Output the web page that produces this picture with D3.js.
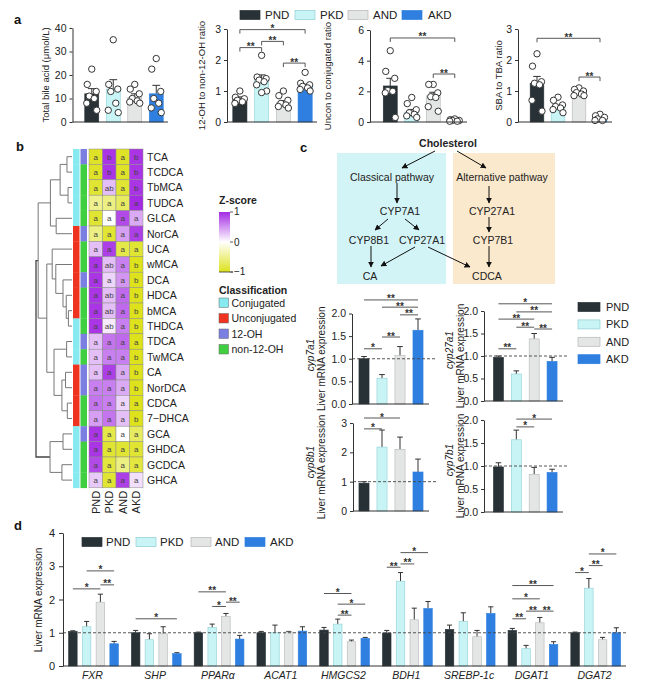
<!DOCTYPE html>
<html>
<head>
<meta charset="utf-8">
<script src="https://cdn.jsdelivr.net/npm/d3@7"></script>
<style>
  body { margin: 0; background: #fff; }
  svg { font-family: "Liberation Sans", Arial, sans-serif; }
  .tick line, .domain { stroke: #333; }
  .tick text { fill: #222; }
</style>
</head>
<body>
<svg id="fig" width="650" height="687"></svg>
<script>
// ---------- data ----------
const groups = ["PND", "PKD", "AND", "AKD"];
const groupColors = ["#273136", "#c9f4f6", "#e4e5e5", "#2f7fe0"];
const groupStroke = ["#273136", "#8fcfd4", "#b5b6b6", "#2f7fe0"];

// panel a
const totalBA = [12.0, 14.0, 10.5, 12.0];
const totalBAErr = [2.2, 4.0, 1.5, 3.6];
const totalBAPts = [[22.5, 16, 13, 11, 10, 8, 5], [35, 16, 14, 13, 8, 5, 4], [16, 14, 12, 10, 9, 8.5, 8], [27, 22.5, 13, 10, 8, 6, 4]];

const ohRatio = [0.75, 1.4, 0.62, 1.15];
const ohRatioErr = [0.06, 0.12, 0.07, 0.07];
const ohRatioPts = [[1.0, 0.8, 0.75, 0.7, 0.65, 0.6], [2.15, 1.45, 1.4, 1.35, 1.3, 1.2, 1.0, 0.95], [1.0, 0.85, 0.7, 0.6, 0.55, 0.5, 0.45], [1.6, 1.25, 1.2, 1.15, 1.1, 1.05, 1.0]];
const ohRatioSig = [[0, 3, 2.98, "*"], [1, 2, 2.6, "**"], [0, 1, 2.4, "**"], [2, 3, 1.9, "**"]];

const unconRatio = [2.35, 0.65, 1.7, 0.1];
const unconRatioErr = [0.5, 0.17, 0.24, 0.03];
const unconRatioPts = [[4.65, 3.3, 2.85, 2.05, 2.0, 1.9, 0.3], [1.6, 1.2, 0.8, 0.6, 0.5, 0.4, 0.3], [2.45, 2.45, 1.9, 1.65, 1.6, 1.0, 0.7], [0.2, 0.15, 0.1, 0.1, 0.05, 0.05]];
const unconRatioSig = [[0, 3, 5.48, "**"], [2, 3, 3.13, "**"]];

const sbaRatio = [1.25, 0.47, 0.9, 0.12];
const sbaRatioErr = [0.22, 0.07, 0.05, 0.03];
const sbaRatioPts = [[2.2, 1.8, 1.3, 1.25, 1.2, 0.7, 0.35], [0.8, 0.7, 0.55, 0.5, 0.45, 0.4, 0.3], [1.1, 1.05, 1.0, 0.95, 0.9, 0.85, 0.85], [0.25, 0.2, 0.15, 0.1, 0.05, 0.05]];
const sbaRatioSig = [[0, 3, 2.7, "**"], [2, 3, 1.45, "**"]];

// panel b
const bileAcids = ["TCA", "TCDCA", "TbMCA", "TUDCA", "GLCA", "NorCA", "UCA", "wMCA", "DCA", "HDCA", "bMCA", "THDCA", "TDCA", "TwMCA", "CA", "NorDCA", "CDCA", "7\u2212DHCA", "GCA", "GHDCA", "GCDCA", "GHCA"];
const zScores = [
  [-0.95, 0.95, -0.95, 0.95], [-0.95, 0.95, -0.95, 0.95], [-0.9, 0.3, -0.9, 0.95], [-0.5, -0.55, -0.7, 1],
  [-0.9, 0.0, 0.85, 0.4], [-0.55, -0.9, 0.45, 0.9], [0.3, 0.9, -0.8, -0.9], [0.95, 0.3, 0.6, -1],
  [0.95, 0.2, 0.5, -1], [0.95, 0.3, 0.7, -1], [0.95, 0.3, 0.7, -1], [0.95, 0.1, 0.6, -1],
  [0.3, 0.65, 0.7, -1], [0.3, 0.6, 0.6, -1], [0.3, 0.9, 0.4, -1], [0.6, 0.6, 0.4, -1],
  [0.65, 0.6, 0.2, -1], [0.45, 0.65, 0.3, -1], [0.95, -0.8, 0.0, -0.7], [0.95, -0.9, -0.9, -0.9],
  [0.85, -0.85, -0.55, -0.85], [0.25, -0.9, 0.9, 0.15]
];
const sigLetters = [
  "a b a b", "a b a b", "a ab a b", "a a a a", "a a a a", "a a a a", "a a a a", "a ab a b",
  "a a a b", "a ab a b", "a ab a b", "a ab a b", "a a a a", "a a a b", "a a a b", "a a a b",
  "a a a a", "a a a b", "a a a a", "a a a a", "a a a a", "a a a a"
];
const conjugation = ["C", "C", "C", "C", "C", "U", "U", "U", "U", "U", "U", "C", "C", "C", "U", "U", "U", "U", "C", "C", "C", "C"];
const hydroxyl = ["12", "n", "n", "n", "n", "12", "n", "n", "12", "n", "n", "n", "12", "n", "12", "12", "n", "n", "12", "n", "n", "n"];
const classNames = ["Conjugated", "Unconjugated", "12-OH", "non-12-OH"];
const classColors = ["#86eaf0", "#ee3420", "#7b7fe2", "#40cf40"];
// dendrogram: [merge height, left, right]
const tree = [10, [9.4, [6, [3.3, [1.4, "TCA", "TCDCA"], [1.1, "TbMCA", "TUDCA"]], [4.4, "GLCA", "NorCA"]],
  [7, [5.5, "UCA", [4.5, "wMCA", [2.5, "DCA", [1.6, "HDCA", [1.0, "bMCA", "THDCA"]]]]],
      [5, [1.5, "TDCA", "TwMCA"], [2.8, [1.8, "CA", "NorDCA"], [1.3, "CDCA", "7\u2212DHCA"]]]]],
  [6.1, [2.5, "GCA", "GHDCA"], [2.8, "GCDCA", "GHCA"]]];

// panel c
const cyp7a1 = [1.0, 0.57, 1.07, 1.63];
const cyp7a1Err = [0.05, 0.08, 0.2, 0.25];
const cyp7a1Sig = [[0, 3, 2.3, "**"], [1, 3, 2.14, "**"], [2, 3, 1.97, "**"], [1, 2, 1.48, "**"], [0, 1, 1.22, "*"]];
const cyp27a1 = [0.97, 0.6, 1.38, 0.88];
const cyp27a1Err = [0.03, 0.07, 0.12, 0.09];
const cyp27a1Sig = [[0, 3, 2.16, "*"], [1, 3, 1.98, "**"], [0, 2, 1.82, "**"], [1, 2, 1.64, "**"], [2, 3, 1.6, "**"], [0, 1, 1.16, "**"]];
const cyp8b1 = [0.95, 2.18, 2.1, 1.33];
const cyp8b1Err = [0.05, 0.58, 0.42, 0.44];
const cyp8b1Sig = [[0, 2, 3.17, "*"], [0, 1, 2.8, "*"]];
const cyp7b1 = [0.98, 1.57, 0.82, 0.86];
const cyp7b1Err = [0.09, 0.21, 0.15, 0.07];
const cyp7b1Sig = [[1, 3, 2.02, "*"], [1, 2, 1.85, "*"]];

// panel d
const genes = ["FXR", "SHP", "PPAR\u03b1", "ACAT1", "HMGCS2", "BDH1", "SREBP-1c", "DGAT1", "DGAT2"];
const geneExpr = [
  [1.04, 1.18, 1.92, 0.67], [1.0, 0.79, 0.97, 0.37], [1.0, 1.16, 1.49, 0.81], [1.0, 1.0, 1.02, 1.05],
  [1.08, 1.26, 0.73, 0.83], [0.99, 2.55, 1.39, 1.73], [1.1, 1.34, 0.88, 1.58], [1.07, 0.52, 1.3, 0.65],
  [1.0, 2.34, 0.79, 1.0]
];
const geneErr = [
  [0.02, 0.16, 0.24, 0.07], [0.07, 0.18, 0.21, 0.03], [0.02, 0.1, 0.09, 0.11], [0.04, 0.23, 0.02, 0.13],
  [0.08, 0.15, 0.05, 0.03], [0.08, 0.26, 0.35, 0.21], [0.13, 0.26, 0.19, 0.2], [0.06, 0.1, 0.16, 0.08],
  [0.02, 0.29, 0.07, 0.15]
];
const geneSig = [
  [[0, 2, 2.32, "*"], [1, 3, 2.86, "*"], [2, 3, 2.44, "**"]],
  [[0, 3, 1.42, "*"]],
  [[0, 2, 2.23, "**"], [1, 2, 1.79, "*"], [2, 3, 1.92, "**"]],
  [],
  [[0, 2, 2.18, "*"], [1, 3, 1.86, "*"], [1, 2, 1.53, "**"]],
  [[0, 1, 2.97, "**"], [1, 2, 3.07, "**"], [1, 3, 3.41, "*"]],
  [],
  [[0, 3, 2.42, "**"], [0, 2, 2.02, "*"], [1, 2, 1.65, "**"], [2, 3, 1.65, "**"], [0, 1, 1.42, "**"]],
  [[0, 1, 2.81, "*"], [1, 2, 3.02, "**"], [1, 3, 3.37, "*"]]
];

// ---------- drawing ----------
const svg = d3.select("#fig");

function panelLetter(t, x, y) {
  svg.append("text").attr("x", x).attr("y", y).text(t)
    .style("font-size", "13px").style("font-weight", "bold").attr("fill", "#111");
}

function legendRow(items, xs, y, textXs, size) {
  const g = svg.append("g");
  items.forEach((name, i) => {
    g.append("rect").attr("x", xs[i]).attr("y", y - 4.5).attr("width", 20).attr("height", 9)
      .attr("fill", groupColors[i]).attr("stroke", groupStroke[i]).attr("stroke-width", 0.7);
    g.append("text").attr("x", textXs[i]).attr("y", y + 4).text(name)
      .style("font-size", size + "px").attr("fill", "#222");
  });
}

function sigMarks(g, list, xc, y, ticks) {
  list.forEach(([a, b, v, lab]) => {
    const x1 = xc(a), x2 = xc(b), yy = y(v);
    const p = ticks ? `M${x1},${yy + 4}V${yy}H${x2}V${yy + 4}` : `M${x1},${yy}H${x2}`;
    g.append("path").attr("d", p).attr("fill", "none").attr("stroke", "#444").attr("stroke-width", 0.9);
    g.append("text").attr("x", (x1 + x2) / 2).attr("y", yy + 2.5).attr("text-anchor", "middle")
      .text(lab).style("font-size", "10px").style("font-weight", "bold").attr("fill", "#333");
  });
}

function barChart(o) {
  const g = svg.append("g");
  const y = d3.scaleLinear().domain(o.yDomain).range(o.yRange);
  const x = d3.scaleBand().domain(groups).range(o.xRange).paddingInner(o.pad).paddingOuter(o.pad / 2);
  const xc = i => x(groups[i]) + x.bandwidth() / 2;
  const bw = x.bandwidth();

  // error bars
  g.selectAll("path.err").data(o.means).join("path").attr("class", "err")
    .attr("d", (d, i) => `M${xc(i)},${y(d)}V${y(d + o.errs[i])}M${xc(i) - bw * 0.28},${y(d + o.errs[i])}H${xc(i) + bw * 0.28}`)
    .attr("stroke", "#333").attr("stroke-width", 1).attr("fill", "none");
  g.selectAll("rect.bar").data(o.means).join("rect").attr("class", "bar")
    .attr("x", (d, i) => x(groups[i])).attr("y", d => y(d))
    .attr("width", bw).attr("height", d => y(0) - y(d))
    .attr("fill", (d, i) => groupColors[i]).attr("stroke", (d, i) => groupStroke[i]).attr("stroke-width", 0.6);
  if (o.ref !== undefined) {
    g.append("line").attr("x1", o.axisX).attr("x2", o.refEnd).attr("y1", y(o.ref)).attr("y2", y(o.ref))
      .attr("stroke", "#444").attr("stroke-width", 0.9).attr("stroke-dasharray", "3,2");
  }
  // points
  if (o.pts) {
    const jit = [0, -4.5, 4.5, -2.5, 2.5, -5, 5, 0];
    o.pts.forEach((arr, i) => {
      g.selectAll(null).data(arr).join("circle")
        .attr("cx", (d, k) => xc(i) + jit[k % jit.length])
        .attr("cy", d => y(d)).attr("r", 3.2)
        .attr("fill", "#fff").attr("stroke", "#333").attr("stroke-width", 1);
    });
  }
  // axis
  const ax = g.append("g").attr("transform", `translate(${o.axisX},0)`)
    .call(d3.axisLeft(y).tickValues(o.ticks).tickFormat(o.fmt || d3.format("d"))
      .tickSize(3).tickPadding(3).tickSizeOuter(0));
  ax.selectAll("text").style("font-size", (o.tickSize || 10.5) + "px");
  g.append("line").attr("x1", o.axisX).attr("x2", o.baseEnd).attr("y1", y(0)).attr("y2", y(0))
    .attr("stroke", "#333").attr("stroke-width", 1);
  // significance
  sigMarks(g, o.sig || [], xc, y, o.sigTicks);
  // labels
  const cy = (o.yRange[0] + o.yRange[1]) / 2;
  o.labels.forEach(l => {
    g.append("text").attr("transform", `translate(${l.x},${l.cy || cy}) rotate(-90)`)
      .attr("text-anchor", "middle").text(l.t)
      .style("font-size", (l.s || 9.5) + "px").style("font-style", l.it ? "italic" : "normal").attr("fill", "#222");
  });
  return g;
}

// ---- panel a ----
panelLetter("a", 14, 24);
legendRow(groups, [240, 295, 348, 402], 15, [265, 320, 373, 428], 11.5);

barChart({ axisX: 72.5, xRange: [81, 167], pad: 0.35, yDomain: [0, 40], yRange: [122, 28], ticks: [0, 10, 20, 30, 40],
  means: totalBA, errs: totalBAErr, pts: totalBAPts, baseEnd: 168,
  labels: [{ t: "Total bile acid (\u03bcmol/L)", x: 49 }] });
barChart({ axisX: 227, xRange: [229, 316], pad: 0.35, yDomain: [0, 3], yRange: [122, 29], ticks: [0, 1, 2, 3],
  means: ohRatio, errs: ohRatioErr, pts: ohRatioPts, baseEnd: 317, sig: ohRatioSig, sigTicks: true,
  labels: [{ t: "12-OH to non-12-OH ratio", x: 205 }] });
barChart({ axisX: 370, xRange: [379.5, 465.5], pad: 0.35, yDomain: [0, 6], yRange: [122, 30], ticks: [0, 2, 4, 6],
  means: unconRatio, errs: unconRatioErr, pts: unconRatioPts, baseEnd: 467, sig: unconRatioSig, sigTicks: true,
  labels: [{ t: "Uncon to conjugated ratio", x: 331 }] });
barChart({ axisX: 518, xRange: [526.5, 610.5], pad: 0.35, yDomain: [0, 3], yRange: [122, 29], ticks: [0, 1, 2, 3],
  means: sbaRatio, errs: sbaRatioErr, pts: sbaRatioPts, baseEnd: 612, sig: sbaRatioSig, sigTicks: true,
  labels: [{ t: "SBA to TBA ratio", x: 502 }] });

// ---- panel b ----
panelLetter("b", 16, 151);
const hb = svg.append("g");
const rowY = d3.scaleBand().domain(bileAcids).range([149, 149 + 15.4 * bileAcids.length]);
const colX = d3.scaleBand().domain(groups).range([89, 143]);
const zColor = d3.scaleLinear().domain([-1, 0, 1]).range(["#dde21c", "#ffffff", "#a42ae4"]);

bileAcids.forEach((ba, r) => {
  const lets = sigLetters[r].split(" ");
  groups.forEach((gname, c) => {
    hb.append("rect").attr("x", colX(gname)).attr("y", rowY(ba))
      .attr("width", colX.bandwidth()).attr("height", rowY.bandwidth())
      .attr("fill", zColor(zScores[r][c])).attr("stroke", "#8a8a8a").attr("stroke-width", 0.5);
    hb.append("text").attr("x", colX(gname) + colX.bandwidth() / 2).attr("y", rowY(ba) + rowY.bandwidth() / 2 + 3)
      .attr("text-anchor", "middle").text(lets[c]).style("font-size", "8px").attr("fill", "#444");
  });
  hb.append("rect").attr("x", 73).attr("y", rowY(ba)).attr("width", 6.5).attr("height", rowY.bandwidth() + 0.3)
    .attr("fill", conjugation[r] === "C" ? classColors[0] : classColors[1]);
  hb.append("rect").attr("x", 80.5).attr("y", rowY(ba)).attr("width", 6.5).attr("height", rowY.bandwidth() + 0.3)
    .attr("fill", hydroxyl[r] === "12" ? classColors[2] : classColors[3]);
  hb.append("text").attr("x", 147).attr("y", rowY(ba) + rowY.bandwidth() / 2 + 3.8).text(ba)
    .style("font-size", "10.5px").attr("fill", "#222");
});
groups.forEach(gname => {
  hb.append("text").attr("transform", `translate(${colX(gname) + colX.bandwidth() / 2 + 4},${rowY.range()[1] + 3}) rotate(-90)`)
    .attr("text-anchor", "end").text(gname).style("font-size", "11px").attr("fill", "#222");
});

// dendrogram
function toHier(n) {
  if (typeof n === "string") return { name: n, h: 0 };
  return { h: n[0], children: [toHier(n[1]), toHier(n[2])] };
}
const root = d3.hierarchy(toHier(tree));
const hx = d3.scaleLinear().domain([0, 10]).range([72, 36]);
root.eachAfter(nd => {
  if (!nd.children) nd.py = rowY(nd.data.name) + rowY.bandwidth() / 2;
  else nd.py = d3.mean(nd.children, c => c.py);
  nd.px = hx(nd.data.h);
});
root.each(nd => {
  if (!nd.children) return;
  const [a, b] = nd.children;
  hb.append("path")
    .attr("d", `M${a.px},${a.py}H${nd.px}V${b.py}H${b.px}`)
    .attr("fill", "none").attr("stroke", nd.depth === 0 ? "#444" : "#777").attr("stroke-width", nd.depth === 0 ? 1.3 : 1);
});

// legend
const defs = svg.append("defs");
const grad = defs.append("linearGradient").attr("id", "zgrad").attr("x1", 0).attr("y1", 0).attr("x2", 0).attr("y2", 1);
[[0, 1], [0.5, 0], [1, -1]].forEach(([o, v]) => grad.append("stop").attr("offset", o).attr("stop-color", zColor(v)));
svg.append("text").attr("x", 219).attr("y", 204).text("Z-score").style("font-size", "10.5px").style("font-weight", "bold").attr("fill", "#222");
svg.append("rect").attr("x", 219).attr("y", 212).attr("width", 11).attr("height", 60).attr("fill", "url(#zgrad)");
svg.append("path").attr("d", "M230,212H233M230,242H233M230,272H233M219,272H233").attr("stroke", "#333").attr("stroke-width", 0.8);
[["1", 215], ["0", 246], ["\u22121", 275]].forEach(([t, yy]) =>
  svg.append("text").attr("x", 234).attr("y", yy).text(t).style("font-size", "10px").attr("fill", "#222"));
svg.append("text").attr("x", 219).attr("y", 294).text("Classification").style("font-size", "10.5px").style("font-weight", "bold").attr("fill", "#222");
classNames.forEach((c, i) => {
  const yy = 303 + i * 15.5;
  svg.append("rect").attr("x", 219).attr("y", yy - 5).attr("width", 9.5).attr("height", 9.5)
    .attr("fill", classColors[i]).attr("stroke", "#666").attr("stroke-width", 0.5);
  svg.append("text").attr("x", 231.5).attr("y", yy + 3.5).text(c).style("font-size", "10.5px").attr("fill", "#222");
});

// ---- panel c ----
panelLetter("c", 300, 152);
const pathBoxes = [{ x: 337, y: 153, w: 109, h: 131, fill: "#d3f4f6" }, { x: 453, y: 153, w: 102, h: 131, fill: "#fbe9cd" }];
const pathNodes = [
  { t: "Cholesterol", x: 448, y: 143, b: true }, { t: "Classical pathway", x: 392, y: 177 },
  { t: "Alternative pathway", x: 502, y: 177 }, { t: "CYP7A1", x: 400, y: 211 }, { t: "CYP27A1", x: 492, y: 211 },
  { t: "CYP8B1", x: 369, y: 240 }, { t: "CYP27A1", x: 422, y: 240 }, { t: "CYP7B1", x: 493, y: 240 },
  { t: "CA", x: 370, y: 276 }, { t: "CDCA", x: 487, y: 276 }
];
const pathArrows = [
  [435, 151, 402, 168], [457, 151, 486, 168], [397, 183, 397, 203], [489, 186, 489, 203],
  [388, 219, 375, 230], [405, 219, 419, 230], [489, 217, 489, 232],
  [371, 246, 371, 267], [415, 247, 381, 266], [428, 247, 470, 267], [489, 246, 489, 267]
];
defs.append("marker").attr("id", "arr").attr("viewBox", "0 0 10 10").attr("refX", 9).attr("refY", 5)
  .attr("markerWidth", 6).attr("markerHeight", 6).attr("orient", "auto")
  .append("path").attr("d", "M0,0L10,5L0,10z").attr("fill", "#111");
const pg = svg.append("g");
pg.selectAll("rect").data(pathBoxes).join("rect")
  .attr("x", d => d.x).attr("y", d => d.y).attr("width", d => d.w).attr("height", d => d.h).attr("fill", d => d.fill);
pg.selectAll("line").data(pathArrows).join("line")
  .attr("x1", d => d[0]).attr("y1", d => d[1]).attr("x2", d => d[2]).attr("y2", d => d[3])
  .attr("stroke", "#111").attr("stroke-width", 1).attr("marker-end", "url(#arr)");
pg.selectAll("text").data(pathNodes).join("text")
  .attr("x", d => d.x).attr("y", d => d.y + 3.8).attr("text-anchor", "middle").text(d => d.t)
  .style("font-size", "10.5px").style("font-weight", d => d.b ? "bold" : "normal").attr("fill", "#222");

const f1 = d3.format(".1f");
barChart({ axisX: 352, xRange: [355, 427], pad: 0.44, yDomain: [0, 2], yRange: [404, 313.5], ticks: [0, 0.5, 1, 1.5, 2],
  fmt: f1, means: cyp7a1, errs: cyp7a1Err, baseEnd: 429, ref: 1, refEnd: 436, sig: cyp7a1Sig,
  labels: [{ t: "cyp7a1", x: 314, it: true, s: 10, cy: 355 }, { t: "Liver mRNA expression", x: 325, s: 10 }] });
barChart({ axisX: 484, xRange: [489.5, 561], pad: 0.44, yDomain: [0, 2], yRange: [401, 311], ticks: [0, 0.5, 1, 1.5, 2],
  fmt: f1, means: cyp27a1, errs: cyp27a1Err, baseEnd: 563, ref: 1, refEnd: 567, sig: cyp27a1Sig,
  labels: [{ t: "cyp27a1", x: 453, it: true, s: 10, cy: 350 }, { t: "Liver mRNA expression", x: 464, s: 10 }] });
barChart({ axisX: 353, xRange: [355, 427], pad: 0.44, yDomain: [0, 3], yRange: [511, 423], ticks: [0, 1, 2, 3],
  means: cyp8b1, errs: cyp8b1Err, baseEnd: 429, ref: 1, refEnd: 436, sig: cyp8b1Sig,
  labels: [{ t: "cyp8b1", x: 314, it: true, s: 10, cy: 462 }, { t: "Liver mRNA expression", x: 325, s: 10 }] });
barChart({ axisX: 484, xRange: [489.5, 561], pad: 0.44, yDomain: [0, 2], yRange: [512, 420], ticks: [0, 0.5, 1, 1.5, 2],
  fmt: f1, means: cyp7b1, errs: cyp7b1Err, baseEnd: 563, ref: 1, refEnd: 567, sig: cyp7b1Sig,
  labels: [{ t: "cyp7b1", x: 453, it: true, s: 10, cy: 460 }, { t: "Liver mRNA expression", x: 464, s: 10 }] });

// legend c
groups.forEach((gname, i) => {
  const yy = 307 + i * 17.4;
  svg.append("rect").attr("x", 578).attr("y", yy - 4.5).attr("width", 22).attr("height", 9)
    .attr("fill", groupColors[i]).attr("stroke", groupStroke[i]).attr("stroke-width", 0.7);
  svg.append("text").attr("x", 606).attr("y", yy + 4).text(gname).style("font-size", "11px").attr("fill", "#222");
});

// ---- panel d ----
panelLetter("d", 14, 530);
legendRow(groups, [82, 136, 191, 245], 542, [106, 160, 215, 270], 11.5);
const dg = svg.append("g");
const dy = d3.scaleLinear().domain([0, 4]).range([666, 533]);
const dx = d3.scaleBand().domain(genes).range([62, 627]);
const dsub = d3.scaleBand().domain(groups).range([4, 59]).paddingInner(0.38).paddingOuter(0.19);
const dxc = (gi, k) => dx(genes[gi]) + dsub(groups[k]) + dsub.bandwidth() / 2;

genes.forEach((gene, gi) => {
  groups.forEach((gname, k) => {
    const v = geneExpr[gi][k], e = geneErr[gi][k], cx = dxc(gi, k), bw = dsub.bandwidth();
    dg.append("path").attr("d", `M${cx},${dy(v)}V${dy(v + e)}M${cx - bw * 0.3},${dy(v + e)}H${cx + bw * 0.3}`)
      .attr("stroke", "#333").attr("stroke-width", 1).attr("fill", "none");
    dg.append("rect").attr("x", dx(gene) + dsub(gname)).attr("y", dy(v)).attr("width", bw).attr("height", dy(0) - dy(v))
      .attr("fill", groupColors[k]).attr("stroke", groupStroke[k]).attr("stroke-width", 0.6);
  });
  sigMarks(dg, geneSig[gi], k => dxc(gi, k), dy, false);
  dg.append("text").attr("x", dx(gene) + dx.bandwidth() / 2 - 1).attr("y", 679).attr("text-anchor", "middle")
    .text(gene).style("font-size", "10.5px").style("font-style", "italic").attr("fill", "#222");
});
dg.append("line").attr("x1", 63).attr("x2", 626).attr("y1", dy(1)).attr("y2", dy(1))
  .attr("stroke", "#444").attr("stroke-width", 0.9).attr("stroke-dasharray", "3,2");
const dax = dg.append("g").attr("transform", "translate(63,0)")
  .call(d3.axisLeft(dy).tickValues([0, 1, 2, 3, 4]).tickFormat(d3.format("d")).tickSize(4).tickPadding(4).tickSizeOuter(0));
dax.selectAll("text").style("font-size", "11px");
dg.append("line").attr("x1", 63).attr("x2", 626).attr("y1", dy(0)).attr("y2", dy(0)).attr("stroke", "#333");
dg.append("text").attr("transform", "translate(42,600) rotate(-90)").attr("text-anchor", "middle")
  .text("Liver mRNA expression").style("font-size", "10px").attr("fill", "#222");
</script>
</body>
</html>
